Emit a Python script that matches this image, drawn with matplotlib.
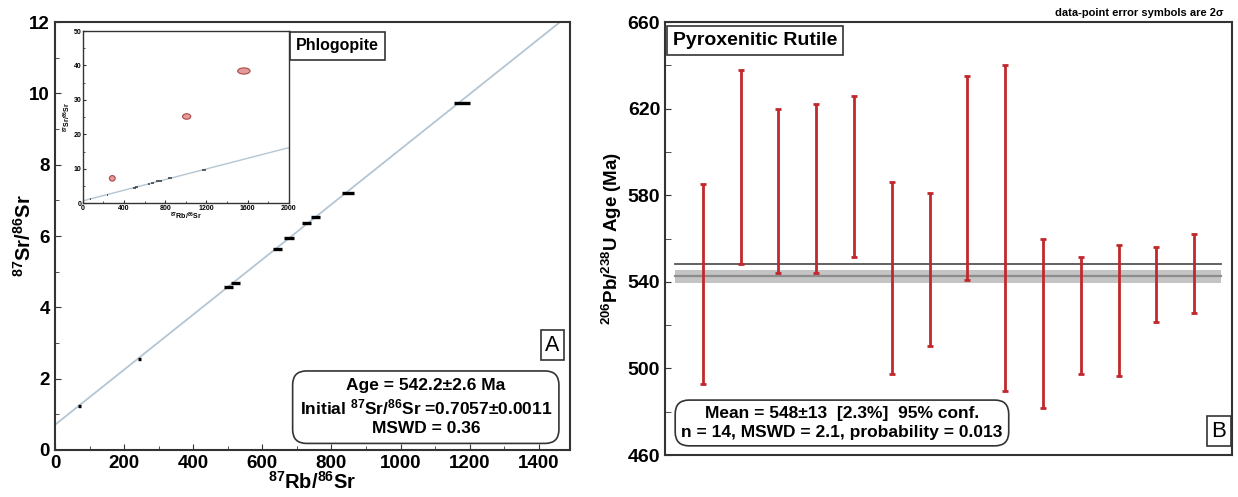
import matplotlib

matplotlib.use("Agg")
import matplotlib.pyplot as plt
import numpy as np
from matplotlib.patches import Ellipse
from matplotlib.ticker import FixedLocator, MultipleLocator

plt.rcParams["font.family"] = ["Liberation Sans", "DejaVu Sans"]
plt.rcParams["mathtext.default"] = "regular"

# Panel A: Rb-Sr isochron (phlogopite)
rb_sr = [72, 245, 502, 521, 644, 678, 728, 754, 847, 1177]
sr_sr = [1.23, 2.55, 4.56, 4.69, 5.65, 5.94, 6.37, 6.54, 7.22, 9.74]
rb_err = [4, 5, 13, 13, 13, 14, 14, 14, 17, 23]
# points rejected from the fit (only in the inset)
rej_rb = [287, 1008, 1563]
rej_sr = [7.25, 25.2, 38.4]
rej_rb_err = [28, 40, 60]
rej_sr_err = [0.8, 0.8, 0.9]
iso_intercept = 0.7057
iso_slope = 0.00773

# Panel B: 206Pb/238U rutile ages, 2 sigma ranges (Ma)
age_lo = [493, 548, 544, 544, 551.5, 497.5, 510.5, 541, 489.5, 481.5, 497.5, 496.5, 521.5, 525.5]
age_hi = [585, 638, 620, 622, 626, 586, 581, 635, 640, 560, 551.5, 557, 556, 562]
mean_line = 548
band_lo, band_mid, band_hi = 539.5, 542.5, 545.5
age_ticks = [460, 500, 540, 580, 620, 660]

RED = "#c0282d"
FRAME = "#333333"

fig = plt.figure(figsize=(12.38, 4.97), dpi=100)
axA = fig.add_axes([0.0444, 0.0946, 0.416, 0.861])
axB = fig.add_axes([0.5372, 0.0845, 0.458, 0.8712])
axI = fig.add_axes([0.0668, 0.5909, 0.1666, 0.3467])


def style(ax, lw=1.5):
    for s in ax.spines.values():
        s.set_color(FRAME)
        s.set_linewidth(lw)
    ax.tick_params(which="both", direction="in", top=False, right=False, color=FRAME)


# ---- panel A ----
xl = np.array([0, 1500])
axA.plot(xl, iso_intercept + iso_slope * xl, color="#b4c6d3", lw=1.3, zorder=1)
axA.errorbar(rb_sr, sr_sr, xerr=rb_err, fmt="none", ecolor="black", elinewidth=2.4, capsize=0, zorder=3)
axA.set_xlim(0, 1490)
axA.set_ylim(0, 12)
axA.xaxis.set_major_locator(MultipleLocator(200))
axA.xaxis.set_minor_locator(MultipleLocator(100))
axA.yaxis.set_major_locator(MultipleLocator(2))
axA.yaxis.set_minor_locator(MultipleLocator(1))
style(axA)
axA.tick_params(which="major", length=4, labelsize=13.5)
axA.tick_params(which="minor", length=3)
for lab in axA.get_xticklabels() + axA.get_yticklabels():
    lab.set_fontweight("bold")
axA.set_xlabel(r"$^{87}$Rb/$^{86}$Sr", fontsize=14.5, fontweight="bold", labelpad=-1)
axA.set_ylabel(r"$^{87}$Sr/$^{86}$Sr", fontsize=14.5, fontweight="bold", labelpad=-4)

axA.text(0.468, 0.962, "Phlogopite", transform=axA.transAxes, fontsize=11.5, fontweight="bold",
         ha="left", va="top", bbox=dict(boxstyle="square,pad=0.4", fc="white", ec=FRAME, lw=1.2))
axA.text(0.72, 0.10, "Age = 542.2\u00b12.6 Ma\nInitial $^{87}$Sr/$^{86}$Sr =0.7057\u00b10.0011\nMSWD = 0.36",
         transform=axA.transAxes, fontsize=12.5, fontweight="bold", ha="center", va="center",
         linespacing=1.3,
         bbox=dict(boxstyle="round,pad=0.4,rounding_size=0.8", fc="white", ec=FRAME, lw=1.2))
axA.text(0.98, 0.245, "A", transform=axA.transAxes, fontsize=15.5, ha="right", va="center",
         bbox=dict(boxstyle="square,pad=0.2", fc="white", ec=FRAME, lw=1.2))

# ---- inset ----
xi = np.array([0, 2000])
axI.plot(xi, iso_intercept + iso_slope * xi, color="#b4c6d3", lw=1.0, zorder=1)
axI.errorbar(rb_sr, sr_sr, xerr=rb_err, fmt="none", ecolor="#444444", elinewidth=1.2, capsize=0, zorder=3)
for x, y, ex, ey in zip(rej_rb, rej_sr, rej_rb_err, rej_sr_err):
    axI.add_patch(Ellipse((x, y), 2 * ex, 2 * ey, fc="#e29a9a", ec="#b04848", lw=0.8, zorder=4))
axI.set_xlim(0, 2000)
axI.set_ylim(0, 50)
axI.xaxis.set_major_locator(MultipleLocator(400))
axI.xaxis.set_minor_locator(MultipleLocator(200))
axI.yaxis.set_major_locator(MultipleLocator(10))
axI.yaxis.set_minor_locator(MultipleLocator(5))
style(axI, lw=1.0)
axI.tick_params(which="major", length=2, labelsize=5, pad=1)
axI.tick_params(which="minor", length=1.5)
for lab in axI.get_xticklabels() + axI.get_yticklabels():
    lab.set_fontweight("bold")
axI.set_xlabel(r"$^{87}$Rb/$^{86}$Sr", fontsize=5, fontweight="bold", labelpad=-1)
axI.set_ylabel(r"$^{87}$Sr/$^{86}$Sr", fontsize=5, fontweight="bold", labelpad=0)

# ---- panel B ----
idx = np.arange(1, len(age_lo) + 1)
lo = np.array(age_lo)
hi = np.array(age_hi)
mid = (lo + hi) / 2
axB.axhspan(band_lo, band_hi, xmin=0.017, xmax=0.981, color="#c4c4c4", lw=0, zorder=1)
axB.plot([0.25, 14.72], [band_mid, band_mid], color="#8c8c8c", lw=1.6, zorder=2)
axB.plot([0.25, 14.72], [mean_line, mean_line], color="#555555", lw=1.3, zorder=2)
axB.errorbar(idx, mid, yerr=(hi - lo) / 2, fmt="none", ecolor=RED, elinewidth=2.0,
             capsize=2, capthick=2.0, zorder=3)
axB.set_xlim(0, 15)
axB.set_ylim(460, 660)
axB.set_xticks([])
axB.yaxis.set_major_locator(FixedLocator(age_ticks))
axB.yaxis.set_minor_locator(MultipleLocator(20))
style(axB)
axB.tick_params(which="major", length=4, labelsize=14)
axB.tick_params(which="minor", length=4)
for lab in axB.get_yticklabels():
    lab.set_fontweight("bold")
axB.set_ylabel(r"$^{206}$Pb/$^{238}$U Age (Ma)", fontsize=13.5, fontweight="bold", labelpad=3)

axB.text(0.014, 0.977, "Pyroxenitic Rutile", transform=axB.transAxes, fontsize=14, fontweight="bold",
         ha="left", va="top", bbox=dict(boxstyle="square,pad=0.3", fc="white", ec=FRAME, lw=1.2))
axB.text(0.312, 0.074, "Mean = 548\u00b113  [2.3%]  95% conf.\nn = 14, MSWD = 2.1, probability = 0.013",
         transform=axB.transAxes, fontsize=12.5, fontweight="bold", ha="center", va="center",
         linespacing=1.3,
         bbox=dict(boxstyle="round,pad=0.35,rounding_size=0.8", fc="white", ec=FRAME, lw=1.2))
axB.text(0.99, 0.055, "B", transform=axB.transAxes, fontsize=16, ha="right", va="center",
         bbox=dict(boxstyle="square,pad=0.2", fc="white", ec=FRAME, lw=1.2))
fig.text(0.988, 0.973, "data-point error symbols are 2\u03c3", fontsize=8, fontweight="bold",
         ha="right", va="center")

fig.savefig("out.png", dpi=100)
